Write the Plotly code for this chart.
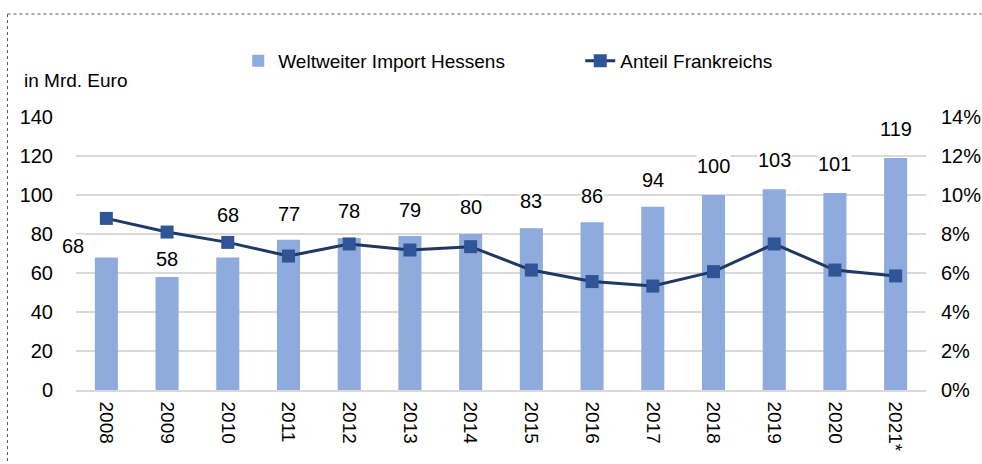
import plotly.graph_objects as go

years = ["2008", "2009", "2010", "2011", "2012", "2013", "2014", "2015",
         "2016", "2017", "2018", "2019", "2020", "2021*"]
import_values = [68, 58, 68, 77, 78, 79, 80, 83, 86, 94, 100, 103, 101, 119]
france_share = [0.088, 0.081, 0.0757, 0.0687, 0.0749, 0.0718, 0.0735, 0.0615,
                0.0556, 0.0533, 0.0607, 0.0749, 0.0615, 0.0585]
left_ticks = [0, 20, 40, 60, 80, 100, 120, 140]
right_ticks = [0, 0.02, 0.04, 0.06, 0.08, 0.10, 0.12, 0.14]

# label offsets (pixels) for the data labels
label_dy = [9, 16, 40, 24, 25, 24, 25, 25, 24, 25, 27, 27, 27, 27]
label_dx = [-33, 0, 0, 0, 0, 0, 0, 0, 0, 0, 0, 0, 0, 0]

W, H = 982, 464
L, R, T, B = 75.6, 926.4, 117, 390

FONT = "Liberation Sans, Arial, sans-serif"
BAR_COLOR = "#8faadc"
LINE_COLOR = "#1f3864"
MARKER_COLOR = "#2f5597"
GRID = "#d9d9d9"

fig = go.Figure()
fig.add_trace(go.Bar(
    x=years, y=import_values, name="Weltweiter Import Hessens",
    marker=dict(color=BAR_COLOR, line=dict(width=0)), width=0.38,
    yaxis="y",
))
fig.add_trace(go.Scatter(
    x=years, y=france_share, name="Anteil Frankreichs", mode="lines+markers",
    line=dict(color=LINE_COLOR, width=3),
    marker=dict(symbol="square", size=13, color=MARKER_COLOR,
                line=dict(width=0)),
    yaxis="y2",
))

annotations = []
for i, (v, dy, dx) in enumerate(zip(import_values, label_dy, label_dx)):
    annotations.append(dict(
        x=i, y=v, xref="x", yref="y", text=str(v), showarrow=False,
        yanchor="bottom", yshift=dy - 10, xshift=dx,
        font=dict(family=FONT, size=20, color="black"),
        bgcolor="white", borderpad=0,
    ))

def px_x(px):
    return (px - L) / (R - L)

def px_y(py):
    return (B - py) / (B - T)

annotations.append(dict(
    x=px_x(22), y=px_y(80), xref="paper", yref="paper", text="in Mrd. Euro",
    showarrow=False, xanchor="left", yanchor="middle",
    font=dict(family=FONT, size=19, color="black"),
))

shapes = [
    dict(type="line", xref="paper", yref="paper",
         x0=px_x(7), x1=px_x(982), y0=px_y(14), y1=px_y(14),
         line=dict(color="#555555", width=1, dash="dot")),
    dict(type="line", xref="paper", yref="paper",
         x0=px_x(7), x1=px_x(7), y0=px_y(14), y1=px_y(464),
         line=dict(color="#555555", width=1, dash="dot")),
]

fig.update_layout(
    width=W, height=H,
    margin=dict(l=L, r=W - R, t=T, b=H - B, pad=0, autoexpand=False),
    paper_bgcolor="white", plot_bgcolor="white",
    font=dict(family=FONT, size=19, color="black"),
    showlegend=True,
    legend=dict(orientation="h", x=px_x(238), y=px_y(61), xanchor="left",
                yanchor="middle", font=dict(family=FONT, size=19),
                entrywidth=297, entrywidthmode="pixels",
                traceorder="normal", bgcolor="rgba(0,0,0,0)"),
    xaxis=dict(type="category", categoryorder="array", categoryarray=years,
               range=[-0.5, len(years) - 0.5], tickangle=90, showgrid=False,
               showline=True, linecolor=GRID, linewidth=1.5, ticks="",
               automargin=False,
               tickfont=dict(family=FONT, size=19), ticklabelstandoff=6),
    yaxis=dict(range=[0, 140], tickvals=left_ticks, showgrid=True,
               gridcolor=GRID, gridwidth=1.5, zeroline=False,
               showline=False, ticks="", ticklabelstandoff=22,
               automargin=False,
               tickfont=dict(family=FONT, size=20)),
    yaxis2=dict(range=[0, 0.14], tickvals=right_ticks, tickformat=".0%",
                overlaying="y", side="right", showgrid=False,
                zeroline=False, showline=False, ticks="",
                automargin=False,
                ticklabelstandoff=14, tickfont=dict(family=FONT, size=20)),
    annotations=annotations,
    shapes=shapes,
)

fig.write_html("out.html", config={"displayModeBar": False},
               post_script="document.body.style.margin='0px';")
